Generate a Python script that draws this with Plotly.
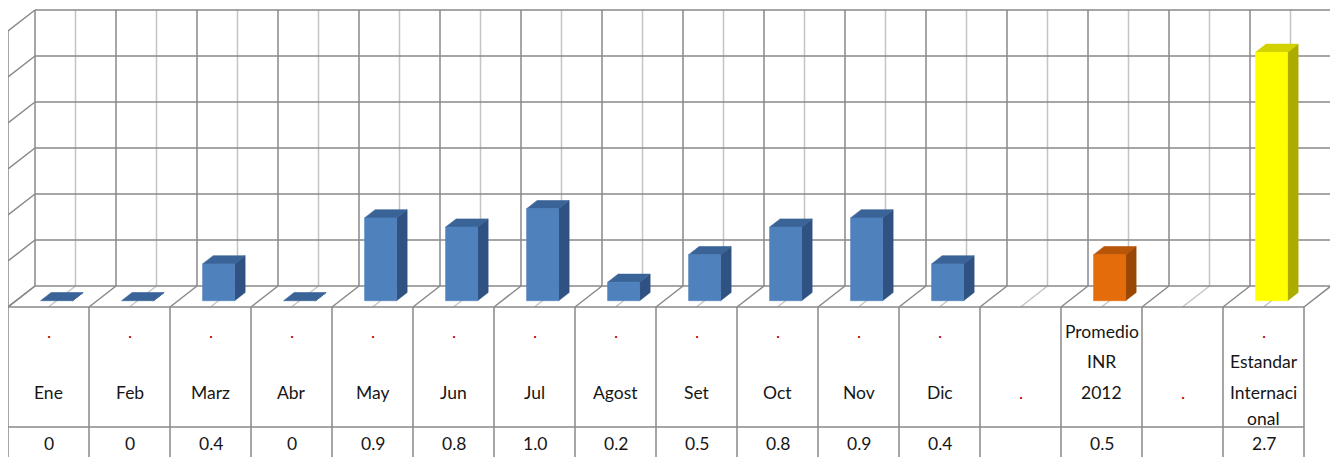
import plotly.graph_objects as go

categories = ["Ene", "Feb", "Marz", "Abr", "May", "Jun", "Jul", "Agost", "Set",
              "Oct", "Nov", "Dic", ".", "Promedio INR 2012", ".", "Estandar Internacional"]
values = [0, 0, 0.4, 0, 0.9, 0.8, 1.0, 0.2, 0.5, 0.8, 0.9, 0.4, None, 0.5, None, 2.7]
table_values = ["0", "0", "0.4", "0", "0.9", "0.8", "1.0", "0.2", "0.5", "0.8",
                "0.9", "0.4", "", "0.5", "", "2.7"]
groups = ["mes"] * 12 + ["", "promedio", "", "estandar"]
# category text as Excel wraps it in the data table (4 line slots)
label_lines = [[".", "", m, ""] for m in categories[:12]] + [
    ["", "", ".", ""],
    ["Promedio", "INR", "2012", ""],
    ["", "", ".", ""],
    [".", "Estandar", "Internaci", "onal"],
]
y_ticks = [0, 0.5, 1.0, 1.5, 2.0, 2.5, 3.0]

FACES = {
    "mes": ("#4F81BD", "#3A6497", "#2F5282"),
    "promedio": ("#E46C0A", "#B85508", "#9A4706"),
    "estandar": ("#FFFF00", "#D2D200", "#ABAB00"),
}
DARK, LIGHT = "#888888", "#C4C4C4"

# page has an 8px body margin; coordinates below are in window pixels
PAGE_M = 8
WIN_W, WIN_H = 1338, 457
X0_PX, FLOOR_PX, COL_PX, UNIT_PX = 8, 307, 81, 92
DX, DY = 27 / COL_PX, 21 / UNIT_PX
T0, T1, BAR_W = 0.3, 0.69, 0.395
n = len(categories)
vmax = y_ticks[-1]


def pv(py):
    return (FLOOR_PX - py) / UNIT_PX


def px(wx):
    return (wx - X0_PX) / COL_PX


def proj(x, v, t):
    return x + DX * t, v + DY * t


def seg_trace(segs, color, width=1.5):
    xs, ys = [], []
    for a, b in segs:
        xs += [a[0], b[0], None]
        ys += [a[1], b[1], None]
    return go.Scatter(x=xs, y=ys, mode="lines", hoverinfo="skip", showlegend=False,
                      line=dict(color=color, width=width))


dark, light = [], []
for v in y_ticks:
    dark.append((proj(0, v, 1), proj(n, v, 1)))
    dark.append((proj(0, v, 0), proj(0, v, 1)))
for k in range(2 * n + 1):
    x = k / 2
    target = dark if k % 2 == 0 else light
    target.append((proj(x, 0, 1), proj(x, vmax, 1)))
    target.append((proj(x, 0, 0), proj(x, 0, 1)))
dark.append((proj(0, 0, 0), proj(0, vmax, 0)))
dark.append((proj(0, 0, 0), proj(n, 0, 0)))

# data table grid
table = []
for i in range(n + 1):
    table.append(((i, 0), (i, pv(WIN_H))))
table.append(((0, pv(427)), (n, pv(427))))

fig = go.Figure()
fig.add_trace(seg_trace(light, LIGHT))
fig.add_trace(seg_trace(dark, DARK))
fig.add_trace(seg_trace(table, DARK))


def face(pts, color):
    xs = [p[0] for p in pts] + [pts[0][0]]
    ys = [p[1] for p in pts] + [pts[0][1]]
    return go.Scatter(x=xs, y=ys, mode="lines", fill="toself", fillcolor=color,
                      line=dict(color=color, width=0.6), hoverinfo="skip",
                      showlegend=False)


for i, (v, g) in enumerate(zip(values, groups)):
    if v is None:
        continue
    front_c, top_c, side_c = FACES[g]
    x0 = i + (1 - BAR_W) / 2
    x1 = x0 + BAR_W
    fig.add_trace(face([proj(x1, 0, T0), proj(x1, 0, T1), proj(x1, v, T1), proj(x1, v, T0)], side_c))
    fig.add_trace(face([proj(x0, v, T0), proj(x1, v, T0), proj(x1, v, T1), proj(x0, v, T1)], top_c))
    if v > 0:
        fig.add_trace(face([proj(x0, 0, T0), proj(x1, 0, T0), proj(x1, v, T0), proj(x0, v, T0)], front_c))

FONT = dict(family="Lato, 'Noto Sans', sans-serif", size=17.5, color="#161616")
slot_py = [331, 361, 392, 418]
annotations = []
for i, lines in enumerate(label_lines):
    for s, txt in enumerate(lines):
        if not txt:
            continue
        is_dot = txt == "."
        annotations.append(dict(
            x=i + 0.5, y=pv(slot_py[s]), xref="x", yref="y", text=txt, showarrow=False,
            font=dict(FONT, color="#C00000") if is_dot else FONT,
            xanchor="center", yanchor="middle"))
    if table_values[i]:
        annotations.append(dict(
            x=i + 0.5, y=pv(443), xref="x", yref="y", text=table_values[i],
            showarrow=False, font=FONT, xanchor="center", yanchor="middle"))

fig.update_layout(
    width=WIN_W - PAGE_M, height=WIN_H - PAGE_M,
    margin=dict(l=0, r=0, t=0, b=0),
    paper_bgcolor="white", plot_bgcolor="white",
    xaxis=dict(range=[px(PAGE_M), px(WIN_W)], visible=False, fixedrange=True),
    yaxis=dict(range=[pv(WIN_H), pv(PAGE_M)], visible=False, fixedrange=True),
    annotations=annotations,
    showlegend=False,
)

fig.write_html("out.html")
